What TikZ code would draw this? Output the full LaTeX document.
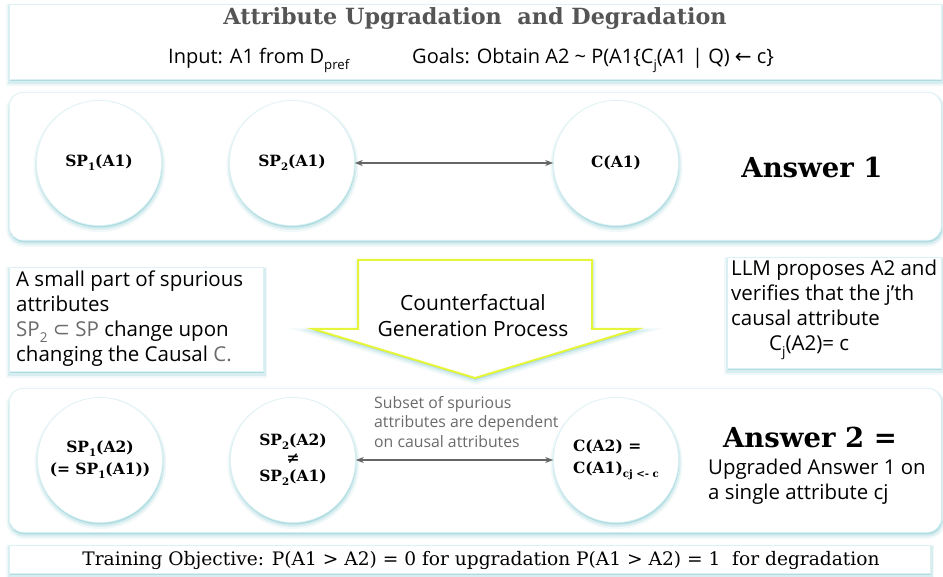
\documentclass[tikz,border=0pt]{standalone}
\usepackage{fontspec}
\usepackage{graphicx}
\setmainfont{Open Sans}
\newfontfamily\slab{DejaVu Serif}
\newfontfamily\dvs{DejaVu Sans}
\usetikzlibrary{arrows.meta,shadows}
\newcommand{\dn}[1]{\raisebox{-0.5ex}{\scalebox{0.66}{#1}}}
\definecolor{shadowc}{HTML}{9ED6DC}
\definecolor{rimc}{HTML}{DCF1F4}
\definecolor{arrowy}{HTML}{E6F53A}
\definecolor{txtgray}{HTML}{555555}
\definecolor{subgray}{HTML}{6B6B6B}
\definecolor{arrgray}{HTML}{666666}
\tikzset{
  sh/.style={
    general shadow={draw=shadowc, line width=7pt, draw opacity=0.15, shadow yshift=-3pt, shadow xshift=0.5pt},
    general shadow={draw=shadowc, line width=3.5pt, draw opacity=0.3, shadow yshift=-2.5pt, shadow xshift=0.5pt},
    general shadow={fill=shadowc, fill opacity=0.7, shadow yshift=-2pt, shadow xshift=0.5pt}},
  panel/.style={rectangle, fill=white, draw=rimc, line width=0.6pt, inner sep=0pt, anchor=north west, sh},
  bubble/.style={circle, fill=white, draw=rimc, line width=0.6pt, minimum size=125pt, inner sep=0pt,
    align=center, sh, font=\slab\bfseries\fontsize{15.5}{22}\selectfont},
  biarrow/.style={{Stealth[length=8pt,width=6pt]}-{Stealth[length=8pt,width=6pt]}, draw=arrgray, line width=1.5pt},
  sans/.style={font=\fontsize{20.5}{25}\selectfont, align=left, inner sep=0pt},
  answer/.style={font=\slab\bfseries\fontsize{27.5}{30}\selectfont, inner sep=0pt},
}
\begin{document}
\begin{tikzpicture}[x=1pt, y=-1pt]
\useasboundingbox (0,0) rectangle (943,577);
\fill[white] (0,0) rectangle (943,577);

% top box
\node[panel, minimum width=932pt, minimum height=75pt] (topbox) at (9,4) {};
\node[font=\slab\bfseries\fontsize{22.3}{24}\selectfont, text=txtgray, inner sep=0pt] (title) at (475,19)
  {Attribute Upgradation\ \ and Degradation};
\node[font=\fontsize{20}{22}\selectfont, anchor=base west, inner sep=0pt] (input) at (168,64)
  {Input: A1 from D\dn{pref}};
\node[font=\fontsize{20}{22}\selectfont, anchor=base west, inner sep=0pt] (goals) at (412,64)
  {Goals: Obtain A2 {\char"7E} P(A1\{C\dn{j}(A1 | Q) {\dvs ←} c\}};

% row 1
\node[panel, rounded corners=14pt, minimum width=932pt, minimum height=148pt] (row1) at (9,92) {};
\node[bubble] (sp1a) at (99,163) {SP\dn{1}(A1)};
\node[bubble] (sp2a) at (292,163) {SP\dn{2}(A1)};
\node[bubble] (ca) at (616,163) {C(A1)};
\draw[biarrow] (sp2a) -- (ca);
\node[answer] (ans1) at (812,167) {Answer 1};

% left and right notes
\node[panel, minimum width=254pt, minimum height=104pt] (leftbox) at (9,267) {};
\node[sans, anchor=north west] (lefttext) at (16,271)
  {A small part of spurious\\attributes\\{\color{subgray}SP\dn{2} {\dvs ⊂} SP} change upon\\changing the Causal {\color{subgray}C.}};
\node[panel, minimum width=214pt, minimum height=111pt] (rightbox) at (727,257) {};
\node[sans, anchor=north west] (righttext) at (731,260)
  {LLM proposes A2 and\\verifies that the j’th\\causal attribute\\\hspace*{38pt}C\dn{j}(A2)= c};

% big arrow
\draw[draw=arrowy, line width=2pt, fill=white, line join=miter, sh]
  (358,260) -- (592,260) -- (592,329) -- (637,329) -- (475,378) -- (313,329) -- (358,329) -- cycle;
\node[font=\fontsize{21}{26}\selectfont, align=center, inner sep=0pt] (cgp) at (473,316)
  {Counterfactual\\Generation Process};

% row 2
\node[panel, rounded corners=14pt, minimum width=932pt, minimum height=144pt] (row2) at (9,388) {};
\node[bubble] (sp1b) at (100,460) {SP\dn{1}(A2)\\(= SP\dn{1}(A1))};
\node[bubble] (sp2b) at (293,460) {SP\dn{2}(A2)\\[-4pt]≠\\[-4pt]SP\dn{2}(A1)};
\node[bubble, align=left] (cb) at (616,460) {C(A2) =\\C(A1)\dn{cj <- c}};
\draw[biarrow] (sp2b) -- (cb);
\node[font=\fontsize{15.8}{19.5}\selectfont, text=subgray, align=left, inner sep=0pt, anchor=north west] (subset) at (374,396)
  {Subset of spurious\\attributes are dependent\\on causal attributes};
\node[answer] (ans2) at (810,437) {Answer 2 =};
\node[font=\fontsize{20.4}{25}\selectfont, align=left, inner sep=0pt, anchor=north west] (upg) at (708,459)
  {Upgraded Answer 1 on\\a single attribute cj};

% training objective
\node[panel, minimum width=921pt, minimum height=28pt] (trainbox) at (9,545) {};
\node[font=\slab\fontsize{18.6}{20}\selectfont, inner sep=0pt] (train) at (481,560)
  {Training Objective: P(A1 > A2) = 0 for upgradation P(A1 > A2) = 1\ \ for degradation};
\end{tikzpicture}
\end{document}
